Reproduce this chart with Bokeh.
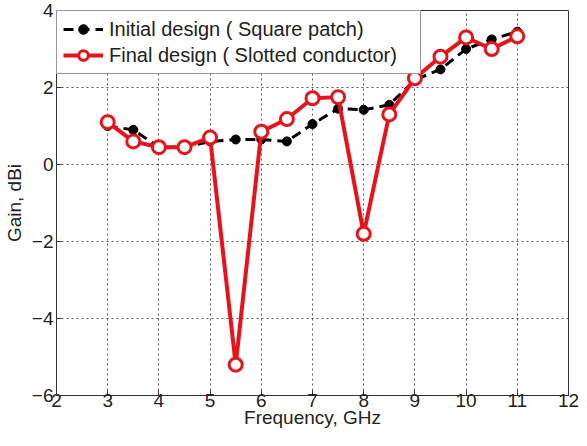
from bokeh.plotting import figure
from bokeh.models import Legend, LegendItem, FixedTicker
from bokeh.embed import file_html
from bokeh.resources import INLINE

freq = [3, 3.5, 4, 4.5, 5, 5.5, 6, 6.5, 7, 7.5, 8, 8.5, 9, 9.5, 10, 10.5, 11]
initial_gain = [1.0, 0.9, 0.45, 0.45, 0.6, 0.65, 0.65, 0.6, 1.05, 1.45, 1.42, 1.55, 2.2, 2.47, 3.0, 3.25, 3.45]
final_gain = [1.1, 0.6, 0.45, 0.45, 0.7, -5.2, 0.85, 1.18, 1.72, 1.75, -1.8, 1.3, 2.24, 2.8, 3.3, 3.0, 3.33]
x_ticks = [2, 3, 4, 5, 6, 7, 8, 9, 10, 11, 12]
y_ticks = [-6, -4, -2, 0, 2, 4]

FONT = "Liberation Sans"

p = figure(width=579, height=430, output_backend="svg", toolbar_location=None,
           x_range=(2, 12), y_range=(-6, 4),
           min_border_left=50, min_border_right=11, min_border_top=10, min_border_bottom=33)

p.outline_line_color = "#333333"
p.outline_line_width = 1
p.background_fill_color = "white"

for ax in (p.xaxis[0], p.yaxis[0]):
    ax.major_label_text_font = FONT
    ax.major_label_text_font_size = "19px"
    ax.major_label_text_color = "#222222"
    ax.axis_label_text_font = FONT
    ax.axis_label_text_font_size = "19px"
    ax.axis_label_text_font_style = "normal"
    ax.axis_label_text_color = "#222222"
    ax.major_tick_in = 5
    ax.major_tick_out = 0
    ax.minor_tick_line_color = None
    ax.axis_line_color = "#333333"
    ax.major_tick_line_color = "#333333"

p.xaxis.ticker = FixedTicker(ticks=x_ticks)
p.yaxis.ticker = FixedTicker(ticks=y_ticks)
p.xaxis.axis_label = "Frequency, GHz"
p.yaxis.axis_label = "Gain, dBi"
p.xaxis.major_label_standoff = -2
p.xaxis.axis_label_standoff = -3
p.yaxis.major_label_standoff = 3
p.yaxis.axis_label_standoff = 4

p.grid.grid_line_color = "#333333"
p.grid.grid_line_dash = "2 3"
p.grid.grid_line_width = 1
p.grid.grid_line_alpha = 0.8

l1 = p.line(freq, initial_gain, line_color="black", line_width=3, line_dash="10 6")
m1 = p.scatter(freq, initial_gain, size=9, fill_color="black", line_color="black")
l2 = p.line(freq, final_gain, line_color="#e8131a", line_width=4)
m2 = p.scatter(freq, final_gain, size=13, fill_color="white", line_color="#e8131a", line_width=3)

legend = Legend(items=[
    LegendItem(label="Initial design ( Square patch)", renderers=[l1, m1]),
    LegendItem(label="Final design ( Slotted conductor)", renderers=[l2, m2]),
], location="top_left")
legend.margin = 0
legend.padding = 6
legend.spacing = 2
legend.border_line_color = "#333333"
legend.border_line_width = 1
legend.label_text_font = FONT
legend.label_text_font_size = "20px"
legend.label_text_color = "#222222"
legend.glyph_width = 40
legend.glyph_height = 24
legend.label_standoff = 6
legend.label_height = 24
legend.label_width = 305
legend.background_fill_alpha = 1
p.add_layout(legend)

open("out.html", "w").write(file_html(p, INLINE))
